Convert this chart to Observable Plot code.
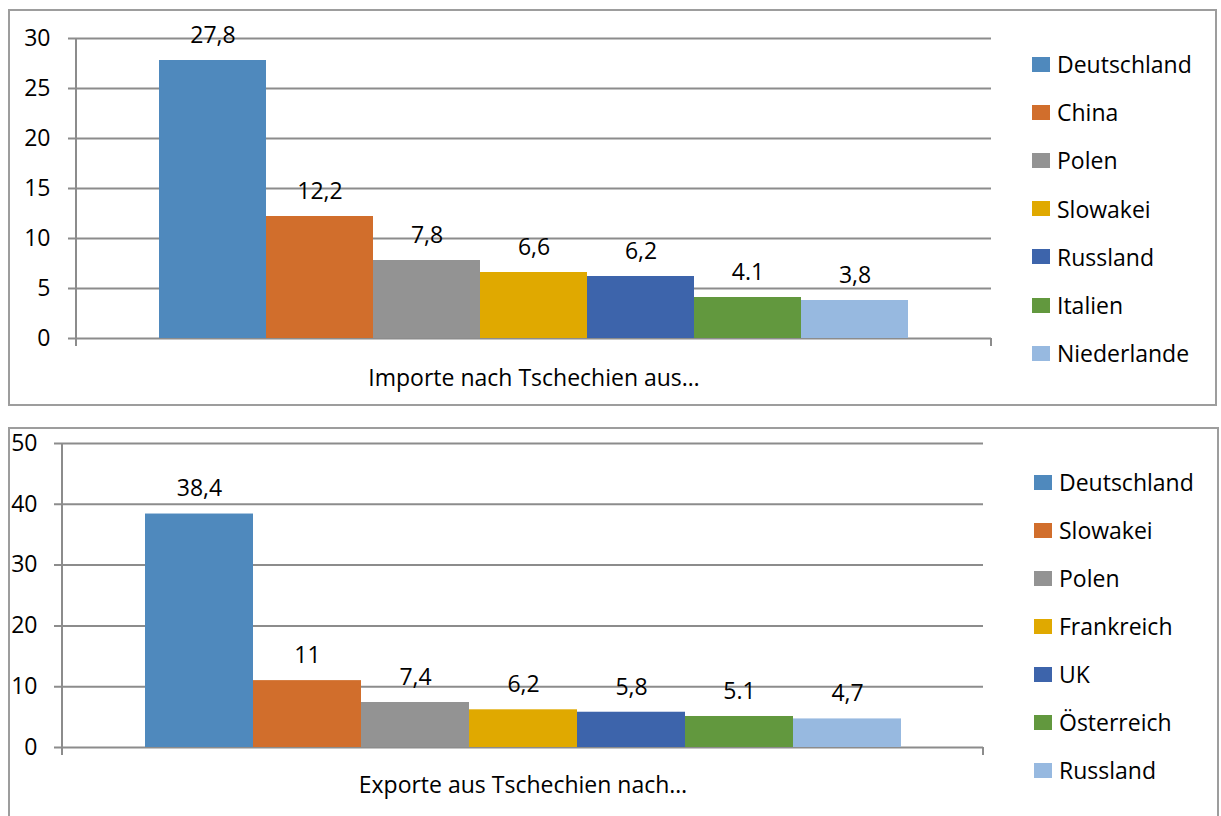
<!DOCTYPE html>
<html>
<head>
<meta charset="utf-8">
<script src="https://cdn.jsdelivr.net/npm/d3@7"></script>
<script src="https://cdn.jsdelivr.net/npm/@observablehq/plot@0.6"></script>
<style>
  html, body { margin: 0; padding: 0; background: #fff; width: 1221px; height: 816px; overflow: hidden; }
  body { position: relative; font-family: "Open Sans", Lato, sans-serif; }
  .panel { position: absolute; left: 0; width: 1221px; }
  .frame { position: absolute; border: 2px solid #9d9d9d; box-sizing: border-box; pointer-events: none; }
  .legend { position: absolute; font-size: 23px; color: #000; }
  .legend .row { position: absolute; left: 0; height: 30px; display: flex; align-items: center; white-space: nowrap; }
  .legend .sw { width: 18px; height: 15px; margin-right: 7px; flex: none; }
</style>
</head>
<body>
<div id="topPanel" class="panel" style="top:0;height:410px"></div>
<div id="bottomPanel" class="panel" style="top:410px;height:406px"></div>
<div class="frame" style="left:8px;top:9px;width:1209px;height:397px"></div>
<div class="frame" style="left:8px;top:427px;width:1211px;height:400px"></div>
<div id="legendTop" class="legend" style="left:1032px;top:49px"></div>
<div id="legendBottom" class="legend" style="left:1034px;top:467px"></div>
<script>
// ---- data ----
const colors = ["#4f89bd", "#d16e2c", "#939393", "#e0a900", "#3d64ab", "#62983e", "#97b9e0"];

const impTitle = "Importe nach Tschechien aus…";
const impCountries = ["Deutschland", "China", "Polen", "Slowakei", "Russland", "Italien", "Niederlande"];
const impValues = [27.8, 12.2, 7.8, 6.6, 6.2, 4.1, 3.8];
const impLabels = ["27,8", "12,2", "7,8", "6,6", "6,2", "4.1", "3,8"];
const impTicks = [0, 5, 10, 15, 20, 25, 30];

const expTitle = "Exporte aus Tschechien nach…";
const expCountries = ["Deutschland", "Slowakei", "Polen", "Frankreich", "UK", "Österreich", "Russland"];
const expValues = [38.4, 11, 7.4, 6.2, 5.8, 5.1, 4.7];
const expLabels = ["38,4", "11", "7,4", "6,2", "5,8", "5.1", "4,7"];
const expTicks = [0, 10, 20, 30, 40, 50];

const FONT = '"Open Sans", Lato, sans-serif';
const FS = 23;
const GRID = "#8c8c8c";

function makeChart(opts) {
  const data = opts.countries.map((c, i) => ({country: c, value: opts.values[i], label: opts.labels[i]}));
  const chart = Plot.plot({
    width: 1221,
    height: opts.height,
    marginLeft: opts.ml,
    marginRight: opts.mr,
    marginTop: opts.mt,
    marginBottom: opts.mb,
    style: {fontFamily: FONT, fontSize: FS + "px", color: "#000", background: "transparent"},
    x: {type: "band", domain: opts.countries, paddingInner: 0, paddingOuter: opts.pad, axis: null},
    y: {domain: [0, opts.ticks[opts.ticks.length - 1]], ticks: opts.ticks, axis: null},
    color: {domain: opts.countries, range: colors},
    marks: [
      Plot.ruleY(opts.ticks, {stroke: GRID, strokeWidth: 2, insetLeft: -8}),
      Plot.axisY({ticks: opts.ticks, tickSize: 0, tickPadding: opts.tp, fontSize: FS, fill: "#000", label: null}),
      Plot.barY(data, {x: "country", y: "value", fill: "country"}),
      Plot.text(data, {x: "country", y: "value", text: "label", dy: -25, fontSize: FS, fill: "#000"}),
      Plot.text([opts.title], {frameAnchor: "bottom", dy: opts.titleDy, text: d => d, fontSize: FS, fill: "#000"})
    ]
  });
  // axis line and end ticks drawn from the plot's own scales
  const xs = chart.scale("x"), ys = chart.scale("y");
  const x0 = xs.range[0], x1 = xs.range[1];
  const yTop = ys.apply(opts.ticks[opts.ticks.length - 1]), yZero = ys.apply(0);
  const svg = d3.select(chart);
  const g = svg.append("g").attr("stroke", GRID).attr("stroke-width", 2);
  g.append("line").attr("x1", x0).attr("x2", x0).attr("y1", yTop).attr("y2", yZero + 8);
  g.append("line").attr("x1", x1).attr("x2", x1).attr("y1", yZero).attr("y2", yZero + 8);
  return chart;
}

document.getElementById("topPanel").append(makeChart({
  countries: impCountries, values: impValues, labels: impLabels, ticks: impTicks, title: impTitle,
  height: 410, ml: 76, mr: 230, mt: 38, mb: 72, pad: 0.75, tp: 26, titleDy: 47
}));
document.getElementById("bottomPanel").append(makeChart({
  countries: expCountries, values: expValues, labels: expLabels, ticks: expTicks, title: expTitle,
  height: 406, ml: 62, mr: 238, mt: 33, mb: 69, pad: 0.76, tp: 25, titleDy: 45
}));

function legend(id, countries, step) {
  const el = document.getElementById(id);
  countries.forEach((c, i) => {
    const row = document.createElement("div");
    row.className = "row";
    row.style.top = (i * step) + "px";
    const sw = document.createElement("span");
    sw.className = "sw";
    sw.style.background = colors[i];
    const t = document.createElement("span");
    t.textContent = c;
    row.append(sw, t);
    el.append(row);
  });
}
legend("legendTop", impCountries, 48.2);
legend("legendBottom", expCountries, 48);
</script>
</body>
</html>
